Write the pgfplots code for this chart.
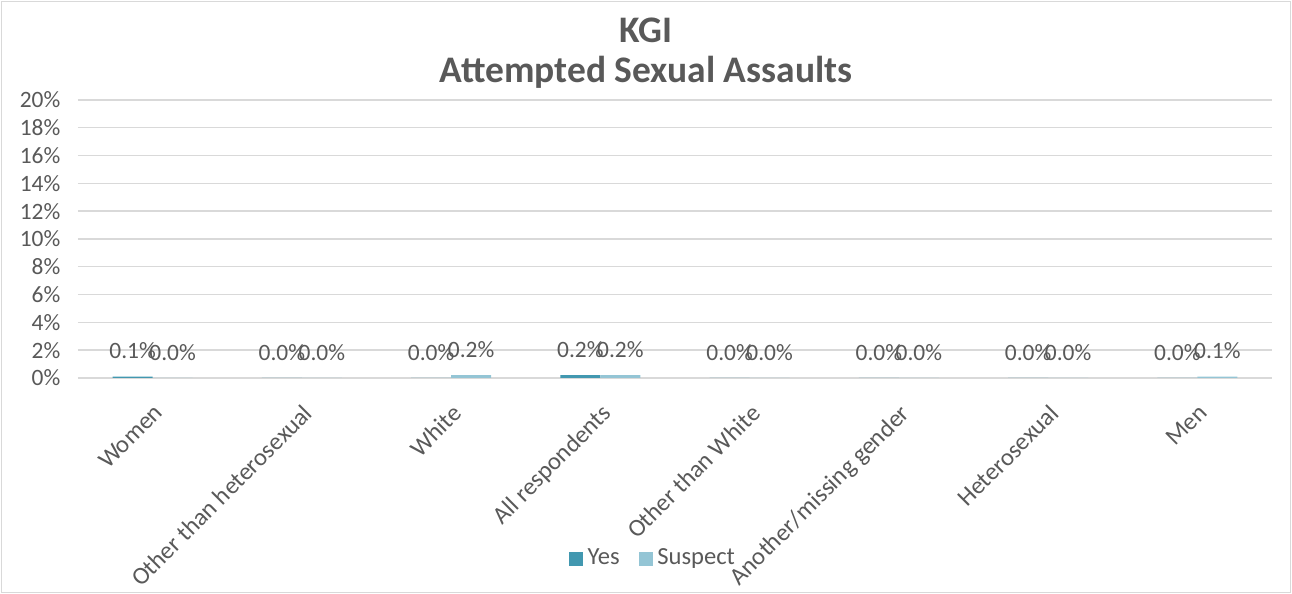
\documentclass[border=0pt]{standalone}
\usepackage{pgfplots}
\pgfplotsset{compat=1.18}
\usepackage{fontspec}
\setmainfont{Carlito}
\definecolor{yescol}{HTML}{4298B0}
\definecolor{suscol}{HTML}{94C5D5}
\definecolor{txt}{HTML}{595959}
\definecolor{gridc}{HTML}{D9D9D9}
\begin{document}
\begin{tikzpicture}
\begin{scope}[x=0.4268pt,y=0.4268pt]
\useasboundingbox (0,0) rectangle (1292,594);
\draw[gridc, line width=0.8pt] (1.5,1.5) rectangle (1290.5,592.5);
\node[txt, font=\bfseries\fontsize{16}{18}\selectfont] at (646,564) {KGI};
\node[txt, font=\bfseries\fontsize{16}{18}\selectfont] at (646,522) {Attempted Sexual Assaults};
\end{scope}
\begin{axis}[
    at={(33.29pt,92.19pt)}, anchor=south west,
    scale only axis,
    width=509.6pt, height=118.65pt,
    ybar=0pt, bar width=17.07pt,
    xmin=-0.5, xmax=7.5,
    ymin=0, ymax=20,
    xtick={0,...,7},
    xticklabels={Women,Other than heterosexual,White,All respondents,Other than White,Another/missing gender,Heterosexual,Men},
    ytick={0,2,...,20},
    yticklabel={\pgfmathprintnumber{\tick}\%},
    /pgf/number format/assume math mode=true,
    ymajorgrids, grid style={gridc, line width=0.6pt},
    axis line style={draw=none},
    major tick length=0pt,
    tick label style={txt, font=\fontsize{10}{12}\selectfont},
    xticklabel style={xshift=0pt, yshift=-9pt, rotate=45, anchor=north east, inner sep=1pt, font=\fontsize{10.5}{12}\selectfont},
    yticklabel style={xshift=-4pt},
    nodes near coords={\pgfmathprintnumber[fixed,fixed zerofill,precision=1]{\pgfplotspointmeta}\%},
    every node near coord/.append style={txt, font=\fontsize{10}{12}\selectfont, anchor=center, yshift=11pt},
    legend style={at={(0.4827,-0.65)}, anchor=center, draw=none, fill=none,
        legend columns=-1, font=\fontsize{10.5}{12}\selectfont, text=txt,
        /tikz/every even column/.append style={column sep=6pt}},
    legend image code/.code={\fill[#1] (0pt,-3pt) rectangle (6pt,3pt);},
]
\addplot[fill=yescol, draw=none] coordinates {(0,0.1) (1,0.0) (2,0.0) (3,0.2) (4,0.0) (5,0.0) (6,0.0) (7,0.0)};
\addplot[fill=suscol, draw=none] coordinates {(0,0.0) (1,0.0) (2,0.2) (3,0.2) (4,0.0) (5,0.0) (6,0.0) (7,0.1)};
\legend{Yes,Suspect}
\end{axis}
\end{tikzpicture}
\end{document}
